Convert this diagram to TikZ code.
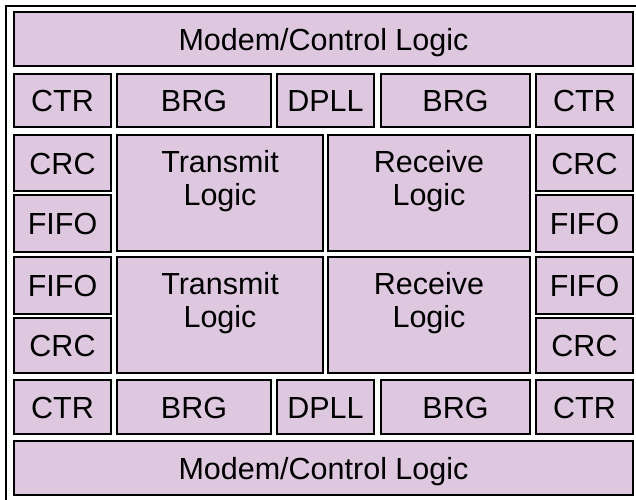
\documentclass[tikz,border=0pt]{standalone}
\usepackage{fontspec}
\setmainfont{Liberation Sans}
\usetikzlibrary{positioning}
\definecolor{blkfill}{RGB}{222,200,224}

\begin{document}
\begin{tikzpicture}[x=1pt,y=-1pt]
      \useasboundingbox (0,0) rectangle (636,499);
      \clip (0,0) rectangle (636,499);
      \draw[line width=2pt] (6,6) rectangle (700,560);

      \begin{scope}[shape=rectangle,anchor=north west,inner sep=0pt,outer sep=0pt,
                    text height=22pt,text depth=0pt,font=\fontsize{30.5}{33}\selectfont]
          \tikzstyle{every node}=[draw,fill=blkfill,line width=2pt]
          % top half
          \node[minimum width=619pt,minimum height=54pt] (mdm1)  at (14,12)   {Modem/Control Logic};
          \node[minimum width=97pt, minimum height=53pt] (ctr1)  at (14,74)   {CTR};
          \node[minimum width=154pt,minimum height=53pt] (brg1)  at (117,74)  {BRG};
          \node[minimum width=97pt, minimum height=53pt] (dpll1) at (277,74)  {DPLL};
          \node[minimum width=149pt,minimum height=53pt] (brg2)  at (381,74)  {BRG};
          \node[minimum width=97pt, minimum height=53pt] (ctr2)  at (536,74)  {CTR};
          \node[minimum width=97pt, minimum height=56pt] (crc1)  at (14,135)  {CRC};
          \node[minimum width=97pt, minimum height=57pt] (fifo1) at (14,195)  {FIFO};
          \node[minimum width=206pt,minimum height=116pt] (tx1)  at (117,135) {};
          \node[minimum width=202pt,minimum height=116pt] (rx1)  at (328,135) {};
          \node[minimum width=97pt, minimum height=56pt] (crc2)  at (536,135) {CRC};
          \node[minimum width=97pt, minimum height=57pt] (fifo2) at (536,195) {FIFO};
          % bottom half
          \node[minimum width=97pt, minimum height=57pt] (fifo3) at (14,257)  {FIFO};
          \node[minimum width=97pt, minimum height=55pt] (crc3)  at (14,318)  {CRC};
          \node[minimum width=206pt,minimum height=116pt] (tx2)  at (117,257) {};
          \node[minimum width=202pt,minimum height=116pt] (rx2)  at (328,257) {};
          \node[minimum width=97pt, minimum height=57pt] (fifo4) at (536,257) {FIFO};
          \node[minimum width=97pt, minimum height=55pt] (crc4)  at (536,318) {CRC};
          \node[minimum width=97pt, minimum height=54pt] (ctr3)  at (14,380)  {CTR};
          \node[minimum width=154pt,minimum height=54pt] (brg3)  at (117,380) {BRG};
          \node[minimum width=97pt, minimum height=54pt] (dpll2) at (277,380) {DPLL};
          \node[minimum width=149pt,minimum height=54pt] (brg4)  at (381,380) {BRG};
          \node[minimum width=97pt, minimum height=54pt] (ctr4)  at (536,380) {CTR};
          \node[minimum width=619pt,minimum height=54pt] (mdm2)  at (14,441)  {Modem/Control Logic};
      \end{scope}

      \begin{scope}[inner sep=0pt,align=center,font=\fontsize{30.5}{33}\selectfont]
          \node[below=15pt of tx1.north] (tx1txt) {Transmit\\Logic};
          \node[below=15pt of rx1.north] (rx1txt) {Receive\\Logic};
          \node[below=15pt of tx2.north] (tx2txt) {Transmit\\Logic};
          \node[below=15pt of rx2.north] (rx2txt) {Receive\\Logic};
      \end{scope}
\end{tikzpicture}
\end{document}
